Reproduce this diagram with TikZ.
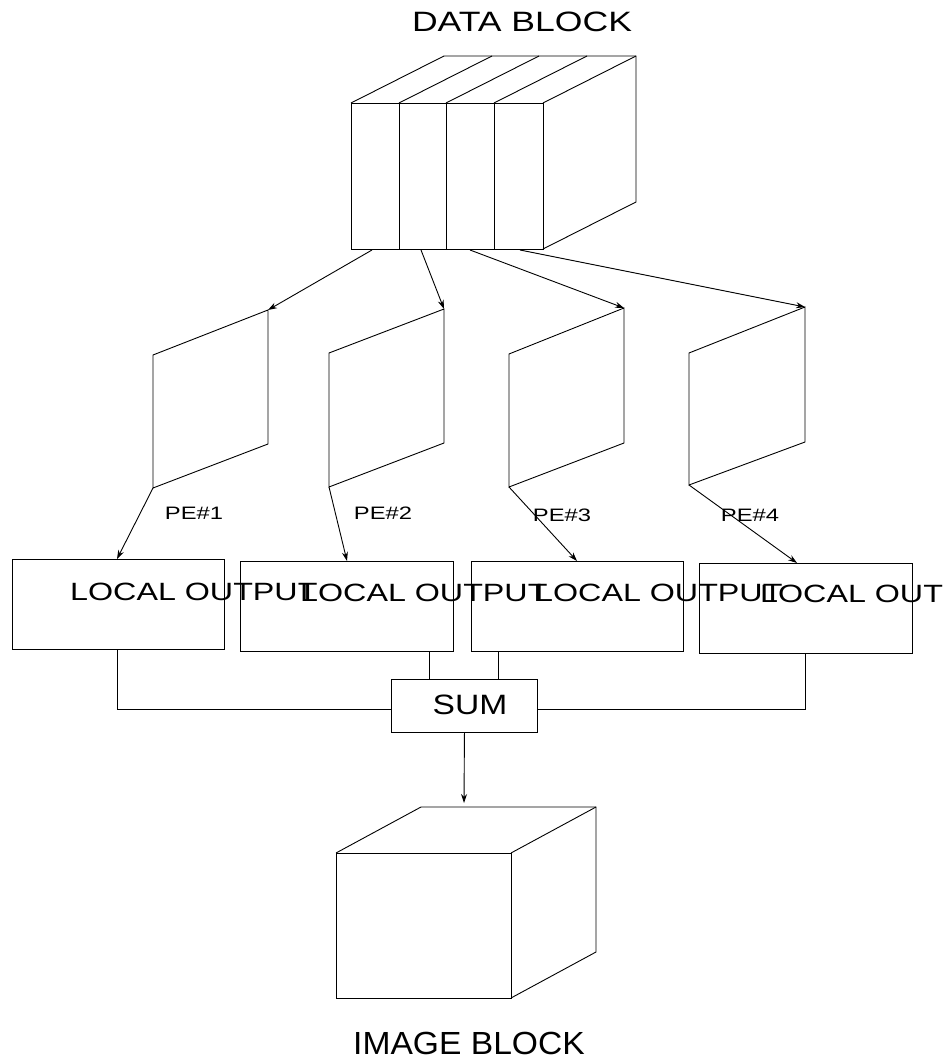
\documentclass[tikz,border=0pt]{standalone}
\usepackage{fontspec}
\setmainfont{Liberation Sans}
\usetikzlibrary{arrows.meta}
\newcommand{\txt}[3]{\scalebox{#2}[1]{\fontsize{#1}{#1}\selectfont #3}}
\begin{document}
\begin{tikzpicture}[x=1pt,y=-1pt,
  ln/.style={line width=0.9pt, black},
  arr/.style={ln,-{Stealth[length=9pt,width=6pt]}},
  lbl/.style={inner sep=0pt},
  boxst/.style={draw, line width=0.9pt, inner sep=0pt, anchor=north west}]
\useasboundingbox (0,0) rectangle (949,1064);

% ---------- DATA BLOCK ----------
\node[lbl] (dbt) at (522,22) {\txt{28}{1.27}{DATA BLOCK}};
\coordinate (dfl) at (351,103);
\coordinate (dfr) at (543,103);
\coordinate (dbl) at (351,249);
\coordinate (dbr) at (543,249);
\draw[ln] (dfl) rectangle (dbr);
\foreach \x in {399,446,494}{
  \draw[ln] (\x,103) -- (\x,249);
  \draw[ln] (\x,103) -- ++(93,-47);
}
\draw[ln] (dfl) -- ++(93,-47) coordinate (dtl) -- (636,56) coordinate (dtr) -- (636,202) coordinate (dbk) -- (dbr);
\draw[ln] (dfr) -- (dtr);

% ---------- PE panels ----------
\draw[ln] (153,355) coordinate (p1tl) -- (268,310) coordinate (p1tr) -- (268,444) -- (153,488) coordinate (p1bl) -- cycle;
\draw[ln] (329,353) coordinate (p2tl) -- (444,309) coordinate (p2tr) -- (444,443) -- (329,487) coordinate (p2bl) -- cycle;
\draw[ln] (509,354) coordinate (p3tl) -- (624,308) coordinate (p3tr) -- (624,443) -- (509,487) coordinate (p3bl) -- cycle;
\draw[ln] (689,353) coordinate (p4tl) -- (805,307) coordinate (p4tr) -- (805,442) -- (689,485) coordinate (p4bl) -- cycle;

% arrows data block -> panels
\coordinate (s1) at (372,250);
\coordinate (s2) at (421,250);
\coordinate (s3) at (470,250);
\coordinate (s4) at (520,250);
\draw[arr] (s1) -- (p1tr);
\draw[arr] (s2) -- (p2tr);
\draw[arr] (s3) -- (p3tr);
\draw[arr] (s4) -- (p4tr);

% PE labels
\node[lbl] (pe1) at (194,513) {\txt{18}{1.32}{PE\#1}};
\node[lbl] (pe2) at (383,513) {\txt{18}{1.32}{PE\#2}};
\node[lbl] (pe3) at (562,515) {\txt{18}{1.32}{PE\#3}};
\node[lbl] (pe4) at (750,515) {\txt{18}{1.32}{PE\#4}};

% ---------- LOCAL OUTPUT boxes ----------
\node[boxst, minimum width=212pt, minimum height=90pt] (lo1) at (12,559) {};
\node[boxst, minimum width=213pt, minimum height=90pt] (lo2) at (240,561) {};
\node[boxst, minimum width=212pt, minimum height=90pt] (lo3) at (471,561) {};
\node[boxst, minimum width=213pt, minimum height=90pt] (lo4) at (699,563) {};

\node[lbl, anchor=west] (t1) at (70,592) {\txt{25}{1.29}{LOCAL OUTPUT}};
\node[lbl, anchor=west] (t2) at (300,593) {\txt{25}{1.29}{LOCAL OUTPUT}};
\node[lbl, anchor=west] (t3) at (535,593) {\txt{25}{1.29}{LOCAL OUTPUT}};
\node[lbl, anchor=west] (t4) at (760,594) {\txt{25}{1.29}{LOCAL OUT}};

% arrows panels -> boxes
\coordinate (e1) at (117,559);
\coordinate (e2) at (347,561);
\coordinate (e3) at (577,561);
\coordinate (e4) at (797,563);
\draw[arr] (p1bl) -- (e1);
\draw[arr] (p2bl) -- (e2);
\draw[arr] (p3bl) -- (e3);
\draw[arr] (p4bl) -- (e4);

% ---------- SUM ----------
\node[boxst, minimum width=146pt, minimum height=53pt] (sum) at (391,679) {};
\node[lbl] (sumt) at (470,705) {\txt{28}{1.2}{SUM}};

\coordinate (c1) at (117,0);
\coordinate (c2) at (429,0);
\coordinate (c3) at (498,0);
\coordinate (c4) at (805,0);
\coordinate (hy) at (0,709);
\draw[ln] (lo1.south -| c1) -- (hy -| c1) -- (hy -| sum.west);
\draw[ln] (lo2.south -| c2) -- (sum.north -| c2);
\draw[ln] (lo3.south -| c3) -- (sum.north -| c3);
\draw[ln] (lo4.south -| c4) -- (hy -| c4) -- (hy -| sum.east);

% ---------- IMAGE BLOCK ----------
\coordinate (ifl) at (336,853);
\coordinate (ifr) at (511,853);
\coordinate (ibr) at (511,998);
\draw[ln] (ifl) rectangle (ibr);
\draw[ln] (ifl) -- (421,807) coordinate (itl) -- (596,807) coordinate (itr) -- (596,952) coordinate (ibk) -- (ibr);
\draw[ln] (ifr) -- (itr);
\coordinate (ia) at (464,803);
\draw[arr] (sum.south) -- (ia);
\node[lbl] (ibt) at (469,1043) {\txt{32}{1.05}{IMAGE BLOCK}};
\end{tikzpicture}
\end{document}
